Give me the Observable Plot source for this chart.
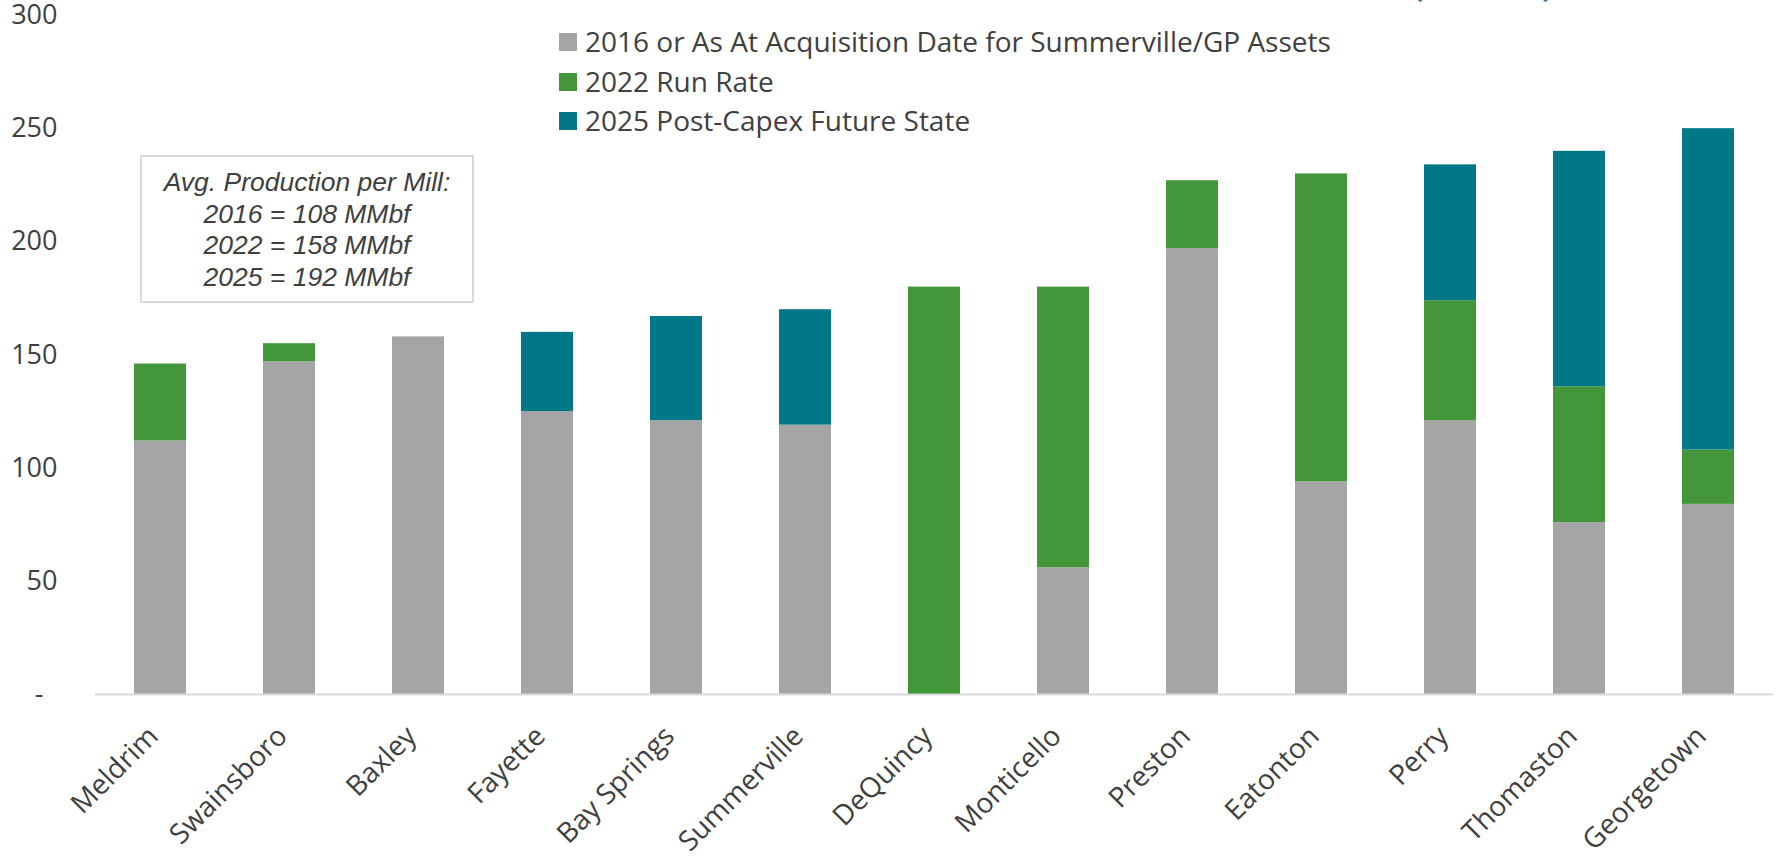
<!DOCTYPE html>
<html>
<head>
<meta charset="utf-8">
<script src="https://cdn.jsdelivr.net/npm/d3@7"></script>
<script src="https://cdn.jsdelivr.net/npm/@observablehq/plot@0.6"></script>
<style>
  html, body { margin: 0; padding: 0; background: #fff; }
  #wrap { position: relative; width: 1778px; height: 858px; overflow: hidden; font-family: "Open Sans", sans-serif; color: #404040; }
  #title { position: absolute; left: 1411px; top: -52px; font-size: 43px; color: #2E6E9A; white-space: nowrap; }
  #legend { position: absolute; left: 559px; top: 22px; font-size: 28px; line-height: 39.7px; }
  #legend .row { display: flex; align-items: center; white-space: nowrap; }
  #legend .sw { width: 18px; height: 18px; margin-right: 8px; flex: none; }
  #note { position: absolute; left: 140px; top: 155px; width: 330px; border: 2px solid #d9d9d9;
          font-family: "Liberation Sans", Arial, sans-serif; font-style: italic; font-size: 26.5px; line-height: 31.5px;
          text-align: center; box-sizing: content-box; padding-top: 10px; height: 134px; color: #404040; }
</style>
</head>
<body>
<div id="wrap">
  <div id="chart"></div>
  <div id="title">(MMbf)</div>
  <div id="legend"></div>
  <div id="note"></div>
</div>
<script>
const categories = ["Meldrim","Swainsboro","Baxley","Fayette","Bay Springs","Summerville","DeQuincy","Monticello","Preston","Eatonton","Perry","Thomaston","Georgetown"];
const series = ["2016 or As At Acquisition Date for Summerville/GP Assets","2022 Run Rate","2025 Post-Capex Future State"];
const colors = ["#A5A5A5","#43963A","#007887"];
const base2016 = [112,147,158,125,121,119,0,56,197,94,121,76,84];
const add2022  = [34,8,0,0,0,0,180,124,30,136,53,60,24];
const add2025  = [0,0,0,35,46,51,0,0,0,0,60,104,142];
const yTicks = [0,50,100,150,200,250,300];
const noteLines = ["Avg. Production per Mill:","2016 = 108 MMbf","2022 = 158 MMbf","2025 = 192 MMbf"];

const seriesValues = [base2016, add2022, add2025];
const data = [];
categories.forEach((c, i) => {
  seriesValues.forEach((vals, s) => {
    data.push({mill: c, series: series[s], order: s, value: vals[i]});
  });
});

const chart = Plot.plot({
  width: 1778,
  height: 858,
  marginLeft: 95,
  marginRight: 5,
  marginTop: 15,
  marginBottom: 164,
  style: {fontFamily: "Open Sans, sans-serif", color: "#404040", background: "white"},
  x: {domain: categories, paddingInner: 0.6, paddingOuter: 0.3, label: null},
  y: {domain: [0, 300], label: null},
  color: {domain: series, range: colors},
  marks: [
    Plot.axisY({ticks: yTicks, tickSize: 0, tickPadding: 38, fontSize: 27, label: null,
      tickFormat: d => d === 0 ? "-\u00a0\u00a0" : String(d)}),
    Plot.axisX({tickSize: 0, tickRotate: -45, tickPadding: 37, fontSize: 28, label: null, dx: -7}),
    Plot.barY(data, Plot.stackY({x: "mill", y: "value", fill: "series", order: "order"})),
    Plot.ruleY([0], {stroke: "#d9d9d9", strokeWidth: 2})
  ]
});
document.getElementById("chart").appendChild(chart);

const legend = document.getElementById("legend");
series.forEach((s, i) => {
  const row = document.createElement("div");
  row.className = "row";
  const sw = document.createElement("span");
  sw.className = "sw";
  sw.style.background = colors[i];
  const t = document.createElement("span");
  t.textContent = s;
  row.appendChild(sw); row.appendChild(t);
  legend.appendChild(row);
});
const note = document.getElementById("note");
noteLines.forEach(l => {
  const d = document.createElement("div");
  d.textContent = l;
  note.appendChild(d);
});
</script>
</body>
</html>
